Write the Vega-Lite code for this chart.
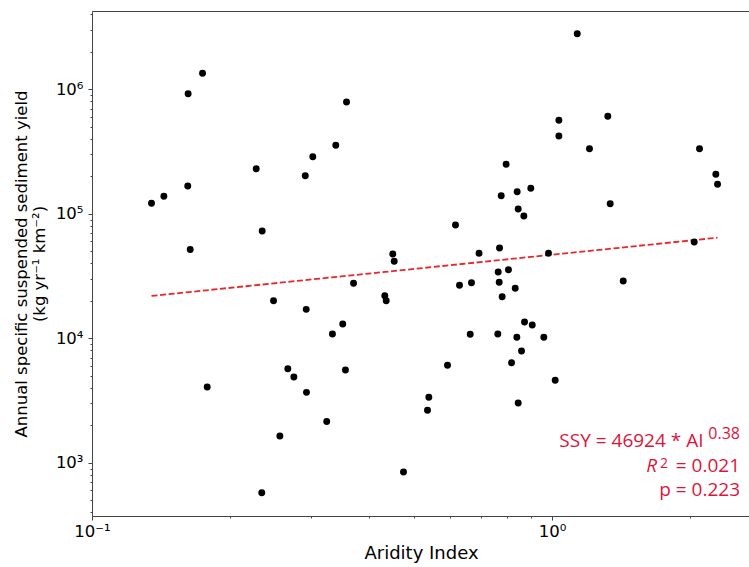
{
  "$schema": "https://vega.github.io/schema/vega-lite/v6.json",
  "autosize": {"type": "none"},
  "padding": {"left": 92, "top": 11, "right": 0, "bottom": 51},
  "width": 658,
  "height": 505,
  "background": "white",
  "config": {
    "view": {"stroke": "#444", "strokeWidth": 1},
    "axis": {
      "domain": false,
      "grid": false,
      "labelFont": "DejaVu Sans",
      "labelFontSize": 16.5,
      "labelColor": "black",
      "titleFont": "DejaVu Sans",
      "titleFontWeight": "normal",
      "titleColor": "black",
      "tickColor": "#444",
      "tickWidth": 1,
      "labelOverlap": false,
      "labelFlush": false
    }
  },
  "datasets": {
    "points": [
      {"AI": 0.1347, "SSY": 121400}, {"AI": 0.1433, "SSY": 138200}, {"AI": 0.1615, "SSY": 167200},
      {"AI": 0.1635, "SSY": 51700}, {"AI": 0.1618, "SSY": 922000}, {"AI": 0.1739, "SSY": 1345000},
      {"AI": 0.178, "SSY": 4060}, {"AI": 0.2275, "SSY": 230200}, {"AI": 0.2344, "SSY": 72700},
      {"AI": 0.2339, "SSY": 575}, {"AI": 0.2481, "SSY": 20050}, {"AI": 0.2561, "SSY": 1640},
      {"AI": 0.2665, "SSY": 5700}, {"AI": 0.2747, "SSY": 4890}, {"AI": 0.2908, "SSY": 202300},
      {"AI": 0.2922, "SSY": 17090}, {"AI": 0.2926, "SSY": 3680}, {"AI": 0.302, "SSY": 287500},
      {"AI": 0.3238, "SSY": 2150}, {"AI": 0.3332, "SSY": 10830}, {"AI": 0.3388, "SSY": 355000},
      {"AI": 0.3508, "SSY": 13030}, {"AI": 0.3556, "SSY": 5570}, {"AI": 0.3575, "SSY": 790700},
      {"AI": 0.3703, "SSY": 27660}, {"AI": 0.433, "SSY": 21990}, {"AI": 0.4361, "SSY": 20050},
      {"AI": 0.4507, "SSY": 47550}, {"AI": 0.4539, "SSY": 41540}, {"AI": 0.4755, "SSY": 843},
      {"AI": 0.5398, "SSY": 3360}, {"AI": 0.5362, "SSY": 2640}, {"AI": 0.5927, "SSY": 6070},
      {"AI": 0.6169, "SSY": 81280}, {"AI": 0.6294, "SSY": 26650}, {"AI": 0.6683, "SSY": 27970},
      {"AI": 0.664, "SSY": 10770}, {"AI": 0.694, "SSY": 48260}, {"AI": 0.769, "SSY": 53130},
      {"AI": 0.7638, "SSY": 34080}, {"AI": 0.7677, "SSY": 28180}, {"AI": 0.7624, "SSY": 10830},
      {"AI": 0.7755, "SSY": 139800}, {"AI": 0.7792, "SSY": 21590}, {"AI": 0.7949, "SSY": 249800},
      {"AI": 0.8041, "SSY": 35560}, {"AI": 0.8166, "SSY": 6370}, {"AI": 0.8318, "SSY": 25210},
      {"AI": 0.84, "SSY": 150500}, {"AI": 0.8443, "SSY": 109300}, {"AI": 0.8386, "SSY": 10190},
      {"AI": 0.8443, "SSY": 3020}, {"AI": 0.8585, "SSY": 7910}, {"AI": 0.8685, "SSY": 96000},
      {"AI": 0.8715, "SSY": 13520}, {"AI": 0.8993, "SSY": 160200}, {"AI": 0.9058, "SSY": 12790},
      {"AI": 0.9598, "SSY": 10190}, {"AI": 0.9826, "SSY": 48170}, {"AI": 1.016, "SSY": 4600},
      {"AI": 1.035, "SSY": 563600}, {"AI": 1.035, "SSY": 421500}, {"AI": 1.1346, "SSY": 2797000},
      {"AI": 1.2063, "SSY": 333300}, {"AI": 1.3222, "SSY": 606900}, {"AI": 1.3381, "SSY": 120500},
      {"AI": 1.4283, "SSY": 28850}, {"AI": 2.0375, "SSY": 59360}, {"AI": 2.0925, "SSY": 333300},
      {"AI": 2.2705, "SSY": 207600}, {"AI": 2.29, "SSY": 172600}
    ],
    "fit": [
      {"AI": 0.1347, "SSY": 21905},
      {"AI": 2.29, "SSY": 64290}
    ],
    "notes": [
      {"label": "SSY = 46924 * AI", "AI": 2.1346, "SSY": 1347, "part": "main"},
      {"label": "0.38", "AI": 2.5627, "SSY": 1347, "part": "sup"},
      {"label": "R", "AI": 1.6917, "SSY": 848, "part": "ital"},
      {"label": "2", "AI": 1.7875, "SSY": 848, "part": "sup2"},
      {"label": "= 0.021", "AI": 2.5627, "SSY": 848, "part": "main"},
      {"label": "p = 0.223", "AI": 2.5627, "SSY": 544, "part": "main"}
    ]
  },
  "layer": [
    {
      "data": {"name": "fit"},
      "mark": {"type": "line", "color": "#e8262b", "strokeWidth": 1.8, "strokeDash": [6, 2.6]},
      "encoding": {
        "x": {
          "field": "AI", "type": "quantitative",
          "scale": {"type": "log", "domain": [0.1, 2.694], "nice": false},
          "axis": {
            "title": "Aridity Index",
            "titleFontSize": 18,
            "titlePadding": 5,
            "values": [0.1, 0.2, 0.3, 0.4, 0.5, 0.6, 0.7, 0.8, 0.9, 1, 2],
            "labelExpr": "datum.value == 0.1 ? '10⁻¹' : datum.value == 1 ? '10⁰' : ''",
            "tickSize": {"condition": {"test": "datum.value == 0.1 || datum.value == 1", "value": 4}, "value": 2},
            "labelPadding": 3
          }
        },
        "y": {
          "field": "SSY", "type": "quantitative",
          "scale": {"type": "log", "domain": [374, 4256000], "nice": false},
          "axis": {
            "title": ["Annual specific suspended sediment yield", "(kg yr⁻¹ km⁻²)"],
            "titleFontSize": 16.5,
            "titleLineHeight": 18,
            "titlePadding": 8,
            "values": [400, 500, 600, 700, 800, 900, 1000, 2000, 3000, 4000, 5000, 6000, 7000, 8000, 9000, 10000, 20000, 30000, 40000, 50000, 60000, 70000, 80000, 90000, 100000, 200000, 300000, 400000, 500000, 600000, 700000, 800000, 900000, 1000000, 2000000, 3000000, 4000000],
            "labelExpr": "datum.value == 1000 ? '10³' : datum.value == 10000 ? '10⁴' : datum.value == 100000 ? '10⁵' : datum.value == 1000000 ? '10⁶' : ''",
            "tickSize": {"condition": {"test": "datum.value == 1000 || datum.value == 10000 || datum.value == 100000 || datum.value == 1000000", "value": 4}, "value": 2},
            "labelPadding": 5
          }
        }
      }
    },
    {
      "data": {"name": "points"},
      "mark": {"type": "circle", "color": "black", "opacity": 1, "size": 48},
      "encoding": {
        "x": {"field": "AI", "type": "quantitative"},
        "y": {"field": "SSY", "type": "quantitative"}
      }
    },
    {
      "data": {"name": "notes"},
      "transform": [{"filter": "datum.part == 'main'"}],
      "mark": {"type": "text", "align": "right", "baseline": "alphabetic", "font": "Open Sans", "fontSize": 19, "color": "#dc143c"},
      "encoding": {
        "x": {"field": "AI", "type": "quantitative"},
        "y": {"field": "SSY", "type": "quantitative"},
        "text": {"field": "label"}
      }
    },
    {
      "data": {"name": "notes"},
      "transform": [{"filter": "datum.part == 'sup'"}],
      "mark": {"type": "text", "align": "right", "baseline": "alphabetic", "font": "Open Sans", "fontSize": 16, "color": "#dc143c", "dy": -7.4},
      "encoding": {
        "x": {"field": "AI", "type": "quantitative"},
        "y": {"field": "SSY", "type": "quantitative"},
        "text": {"field": "label"}
      }
    },
    {
      "data": {"name": "notes"},
      "transform": [{"filter": "datum.part == 'ital'"}],
      "mark": {"type": "text", "align": "right", "baseline": "alphabetic", "font": "Open Sans", "fontStyle": "italic", "fontSize": 19, "color": "#dc143c"},
      "encoding": {
        "x": {"field": "AI", "type": "quantitative"},
        "y": {"field": "SSY", "type": "quantitative"},
        "text": {"field": "label"}
      }
    },
    {
      "data": {"name": "notes"},
      "transform": [{"filter": "datum.part == 'sup2'"}],
      "mark": {"type": "text", "align": "right", "baseline": "alphabetic", "font": "Open Sans", "fontSize": 14, "color": "#dc143c", "dy": -4},
      "encoding": {
        "x": {"field": "AI", "type": "quantitative"},
        "y": {"field": "SSY", "type": "quantitative"},
        "text": {"field": "label"}
      }
    }
  ]
}
